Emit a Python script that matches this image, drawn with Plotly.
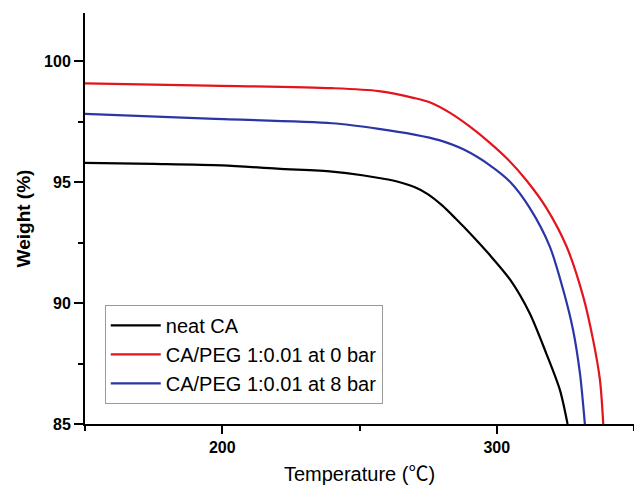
import plotly.graph_objects as go

# neat CA
temp_neat = [150, 175, 200, 220, 240, 251, 263, 270, 275, 280, 285, 291, 297, 305, 312, 318, 323, 325.8]
weight_neat = [95.80, 95.76, 95.70, 95.56, 95.44, 95.29, 95.05, 94.80, 94.50, 94.05, 93.50, 92.80,
               92.05, 90.95, 89.58, 87.93, 86.41, 85.0]

# CA/PEG 1:0.01 at 0 bar
temp_0bar = [150, 195, 240, 257, 270, 276, 283, 290, 297.5, 304, 311, 318, 325.4, 331.5, 335.1, 337.6, 338.8]
weight_0bar = [99.09, 99.00, 98.89, 98.77, 98.48, 98.29, 97.87, 97.32, 96.63, 95.95, 95.05, 93.95,
               92.35, 90.27, 88.48, 86.82, 85.0]

# CA/PEG 1:0.01 at 8 bar
temp_8bar = [150, 195, 240, 257, 270, 279, 288, 297.5, 305, 312, 319.3, 324.2, 327.8, 330.3, 332.1]
weight_8bar = [97.83, 97.63, 97.44, 97.21, 96.97, 96.74, 96.35, 95.70, 95.00, 93.94, 92.35, 90.55,
               88.89, 87.10, 85.0]

series = [
    ("neat CA", temp_neat, weight_neat, "#000000"),
    ("CA/PEG 1:0.01 at 0 bar", temp_0bar, weight_0bar, "#e3141c"),
    ("CA/PEG 1:0.01 at 8 bar", temp_8bar, weight_8bar, "#2a36a6"),
]

fig = go.Figure()
for name, xs, ys, color in series:
    fig.add_trace(go.Scatter(x=xs, y=ys, mode="lines", name=name,
                             line=dict(color=color, width=2.2, shape="spline", smoothing=0.8)))

font = "Liberation Sans, Arial, sans-serif"

fig.update_layout(
    width=634, height=488,
    margin=dict(l=85, r=0, t=13, b=64),
    plot_bgcolor="white", paper_bgcolor="white",
    font=dict(family=font, color="black"),
    legend=dict(x=0.036, y=0.29, xanchor="left", yanchor="top",
                bordercolor="#9a9a9a", borderwidth=1, bgcolor="white",
                font=dict(size=20, color="black"), tracegroupgap=0, itemwidth=50),
)

fig.update_xaxes(
    range=[150, 350], showgrid=False, zeroline=False, automargin=False,
    showline=True, linecolor="black", linewidth=2,
    tick0=0, dtick=100, ticks="outside", ticklen=8, tickwidth=2, tickcolor="black",
    tickfont=dict(size=16, weight="bold"),
    minor=dict(dtick=50, ticks="outside", ticklen=5, tickwidth=2, tickcolor="black", showgrid=False),
    title=dict(text="Temperature (℃)", standoff=12,
               font=dict(size=20, family="Liberation Sans, Noto Sans CJK SC, sans-serif")),
)
fig.update_yaxes(
    range=[85, 102], showgrid=False, zeroline=False, automargin=False,
    showline=True, linecolor="black", linewidth=2,
    tick0=0, dtick=5, ticks="outside", ticklen=9, tickwidth=2, tickcolor="black",
    tickfont=dict(size=16, weight="bold"),
    minor=dict(dtick=2.5, ticks="outside", ticklen=5, tickwidth=2, tickcolor="black", showgrid=False),
    title=dict(text="Weight (%)", font=dict(size=19, weight="bold"), standoff=8),
)

# drop the page's default body margin so the figure sits at the window's corner
fig.write_html("out.html", config={"displayModeBar": False},
               post_script="document.body.style.margin='0';")
